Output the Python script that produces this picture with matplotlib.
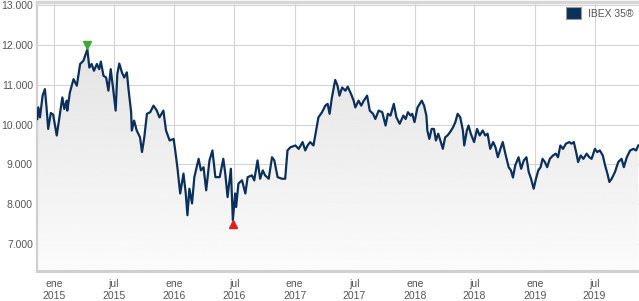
import numpy as np
import pandas as pd
import matplotlib
matplotlib.use("Agg")
import matplotlib.pyplot as plt
import matplotlib.dates as mdates
import matplotlib.transforms as mtransforms
from matplotlib.patches import Rectangle
from matplotlib.ticker import FuncFormatter

plt.rcParams["font.family"] = ["Liberation Sans", "DejaVu Sans"]

# IBEX 35 closes
dates = [
    "2014-11-11", "2014-11-14", "2014-11-19", "2014-11-27", "2014-12-04", "2014-12-09",
    "2014-12-14", "2014-12-22", "2014-12-29", "2015-01-09", "2015-01-17", "2015-01-26",
    "2015-02-01", "2015-02-08", "2015-02-10", "2015-02-18", "2015-03-01", "2015-03-11",
    "2015-03-21", "2015-03-31", "2015-04-12", "2015-04-18", "2015-04-25", "2015-05-02",
    "2015-05-11", "2015-05-18", "2015-05-23", "2015-05-31", "2015-06-08", "2015-06-15",
    "2015-06-22", "2015-06-30", "2015-07-07", "2015-07-12", "2015-07-18", "2015-07-26",
    "2015-08-02", "2015-08-10", "2015-08-15", "2015-08-23", "2015-08-25", "2015-09-01",
    "2015-09-09", "2015-09-19", "2015-09-25", "2015-10-02", "2015-10-10", "2015-10-20",
    "2015-10-30", "2015-11-09", "2015-11-17", "2015-11-29", "2015-12-07", "2015-12-18",
    "2015-12-30", "2016-01-04", "2016-01-11", "2016-01-19", "2016-01-29", "2016-02-05",
    "2016-02-10", "2016-02-16", "2016-02-24", "2016-03-02", "2016-03-15", "2016-03-22",
    "2016-03-30", "2016-04-07", "2016-04-17", "2016-04-26", "2016-05-05", "2016-05-18",
    "2016-05-29", "2016-06-04", "2016-06-11", "2016-06-21", "2016-06-27", "2016-07-04",
    "2016-07-07", "2016-07-14", "2016-07-25", "2016-08-04", "2016-08-11", "2016-08-24",
    "2016-08-31", "2016-09-10", "2016-09-18", "2016-09-26", "2016-10-03", "2016-10-14",
    "2016-10-24", "2016-10-31", "2016-11-10", "2016-11-23", "2016-12-03", "2016-12-10",
    "2016-12-19", "2017-01-03", "2017-01-13", "2017-01-25", "2017-02-02", "2017-02-09",
    "2017-02-17", "2017-02-27", "2017-03-07", "2017-03-14", "2017-03-25", "2017-04-04",
    "2017-04-11", "2017-04-17", "2017-04-24", "2017-05-04", "2017-05-11", "2017-05-17",
    "2017-05-25", "2017-06-04", "2017-06-11", "2017-06-21", "2017-06-29", "2017-07-04",
    "2017-07-14", "2017-07-22", "2017-07-30", "2017-08-09", "2017-08-17", "2017-08-27",
    "2017-09-03", "2017-09-13", "2017-09-24", "2017-10-04", "2017-10-11", "2017-10-19",
    "2017-10-29", "2017-11-06", "2017-11-16", "2017-11-27", "2017-12-04", "2017-12-11",
    "2017-12-19", "2017-12-24", "2017-12-31", "2018-01-09", "2018-01-22", "2018-01-29",
    "2018-02-05", "2018-02-08", "2018-02-14", "2018-02-21", "2018-02-28", "2018-03-06",
    "2018-03-13", "2018-03-21", "2018-03-27", "2018-04-03", "2018-04-10", "2018-04-18",
    "2018-04-27", "2018-05-04", "2018-05-11", "2018-05-19", "2018-05-27", "2018-05-31",
    "2018-06-08", "2018-06-13", "2018-06-20", "2018-06-30", "2018-07-09", "2018-07-17",
    "2018-07-26", "2018-08-03", "2018-08-10", "2018-08-18", "2018-08-27", "2018-09-03",
    "2018-09-10", "2018-09-18", "2018-09-25", "2018-10-03", "2018-10-13", "2018-10-20",
    "2018-10-26", "2018-11-02", "2018-11-12", "2018-11-20", "2018-11-28", "2018-12-06",
    "2018-12-13", "2018-12-20", "2018-12-28", "2019-01-04", "2019-01-11", "2019-01-18",
    "2019-01-24", "2019-01-31", "2019-02-07", "2019-02-15", "2019-02-25", "2019-03-05",
    "2019-03-12", "2019-03-19", "2019-03-27", "2019-04-05", "2019-04-15", "2019-04-22",
    "2019-04-29", "2019-05-07", "2019-05-12", "2019-05-20", "2019-05-28", "2019-06-07",
    "2019-06-15", "2019-06-22", "2019-07-02", "2019-07-09", "2019-07-17", "2019-07-26",
    "2019-08-02", "2019-08-09", "2019-08-15", "2019-08-22", "2019-09-01", "2019-09-11",
    "2019-09-21", "2019-09-28", "2019-10-07", "2019-10-17", "2019-10-27", "2019-11-04",
    "2019-11-11",
]
ibex = [
    10140, 10430, 10180, 10725, 10890, 10430,
    9890, 10290, 10250, 9725, 10180, 10680,
    10390, 10600, 10350, 10810, 11140, 10975,
    11520, 11600, 11890, 11430, 11520, 11350,
    11520, 11390, 11580, 11225, 11180, 10850,
    11390, 10850, 10350, 11270, 11530, 11310,
    11180, 11310, 10890, 10310, 9850, 10100,
    9850, 9680, 9310, 9680, 10270, 10310,
    10475, 10350, 10180, 10350, 9850, 9600,
    9640, 9350, 8890, 8270, 8770, 8270,
    7725, 8390, 8020, 8680, 9140, 8850,
    8930, 8350, 9100, 9350, 8680, 8680,
    9140, 8770, 8180, 8890, 7600, 8270,
    7930, 8520, 8600, 8270, 8680, 8725,
    8600, 9100, 8640, 8850, 8725, 8640,
    9180, 9100, 8680, 8640, 8640, 9350,
    9430, 9475, 9390, 9560, 9350, 9475,
    9560, 9475, 9850, 10180, 10310, 10475,
    10520, 10270, 10680, 11120, 10975, 10725,
    10930, 10850, 10950, 10770, 10600, 10430,
    10600, 10475, 10600, 10725, 10350, 10270,
    10140, 10350, 10310, 9975, 10270, 10225,
    10520, 10180, 10020, 10225, 10140, 10310,
    10225, 10270, 10060, 10430, 10600, 10475,
    10225, 9850, 9640, 9890, 9890, 9600,
    9770, 9560, 9390, 9680, 9725, 9810,
    9930, 10060, 10270, 10180, 9850, 9475,
    9850, 9975, 9770, 9560, 9890, 9725,
    9850, 9725, 9770, 9390, 9560, 9430,
    9180, 9390, 9560, 9270, 8930, 8850,
    8670, 8975, 9180, 8890, 9100, 9180,
    8810, 8640, 8390, 8640, 8850, 8930,
    9140, 9060, 8930, 9140, 9225, 9270,
    9180, 9475, 9390, 9520, 9560, 9520,
    9560, 9270, 9060, 9225, 9140, 9270,
    9180, 9140, 9390, 9310, 9350, 9225,
    8975, 8770, 8560, 8640, 8810, 9060,
    9140, 8930, 9180, 9350, 9390, 9350,
    9475,
]
tick_dates = ["2015-01-01", "2015-07-01", "2016-01-01", "2016-07-01", "2017-01-01",
              "2017-07-01", "2018-01-01", "2018-07-01", "2019-01-01", "2019-07-01"]
tick_labels = ["ene\n2015", "jul\n2015", "ene\n2016", "jul\n2016", "ene\n2017",
               "jul\n2017", "ene\n2018", "jul\n2018", "ene\n2019", "jul\n2019"]
y_ticks = [7000, 8000, 9000, 10000, 11000, 12000, 13000]

x = pd.to_datetime(dates)
y = np.array(ibex)

fig = plt.figure(figsize=(6.39, 3.01), dpi=100)
ax = fig.add_axes([37 / 639, 30 / 301, 602 / 639, 269 / 301])

ymin, ymax = 6325, 13075
xmin, xmax = pd.Timestamp("2014-11-10"), pd.Timestamp("2019-11-13")

# grey gradient under the line
poly = ax.fill_between(x, y, ymin, color="none")
grad = np.linspace(0.89, 0.985, 256).reshape(-1, 1)
img = ax.imshow(grad, cmap="gray", vmin=0, vmax=1, aspect="auto",
                extent=[mdates.date2num(xmin), mdates.date2num(xmax), ymin, 12000],
                origin="upper", zorder=1)
img.set_clip_path(poly.get_paths()[0], transform=ax.transData)
ax.set_xlim(xmin, xmax)
ax.set_ylim(ymin, ymax)

line_color = "#0b305b"
ax.plot(x, y, color=line_color, lw=1.6, zorder=3)

# max / min markers
imax, imin = int(np.argmax(y)), int(np.argmin(y))
up = mtransforms.offset_copy(ax.transData, fig=fig, x=0, y=3, units="points")
down = mtransforms.offset_copy(ax.transData, fig=fig, x=0, y=-3, units="points")
ax.plot(x[imax], y[imax], marker="v", color="#3aaa35", ms=6, transform=up, zorder=4)
ax.plot(x[imin], y[imin], marker="^", color="#e0211b", ms=6, transform=down, zorder=4)

ax.set_yticks(y_ticks)
ax.yaxis.set_major_formatter(FuncFormatter(lambda v, p: f"{int(v):,}".replace(",", ".")))
ax.set_xticks(pd.to_datetime(tick_dates))
ax.set_xticklabels(tick_labels)
ax.grid(True, color="#d4d4d4", lw=0.8, zorder=0)
ax.set_axisbelow(True)
ax.tick_params(length=0, labelsize=7.5, colors="#555555")
ax.tick_params(axis="y", pad=3)
ax.tick_params(axis="x", pad=6)

ax.spines["right"].set_visible(False)
ax.spines["top"].set_color("#d6d6d6")
ax.spines["top"].set_linewidth(2.5)
ax.spines["bottom"].set_color("#d0d0d0")
ax.spines["bottom"].set_linewidth(2.2)
ax.spines["left"].set_color("#d0d0d0")
ax.spines["left"].set_linewidth(1.6)

leg_handles = [Rectangle((0, 0), 1, 1, facecolor=line_color, edgecolor="#9a9a9a", lw=0.8)]
ax.legend(leg_handles, ["IBEX 35®"], loc="upper right", frameon=False, fontsize=7.5,
          handlelength=1.4, handleheight=1.4, borderaxespad=0.1, handletextpad=0.7,
          labelcolor="#555555")

fig.savefig("out.png", dpi=100)
